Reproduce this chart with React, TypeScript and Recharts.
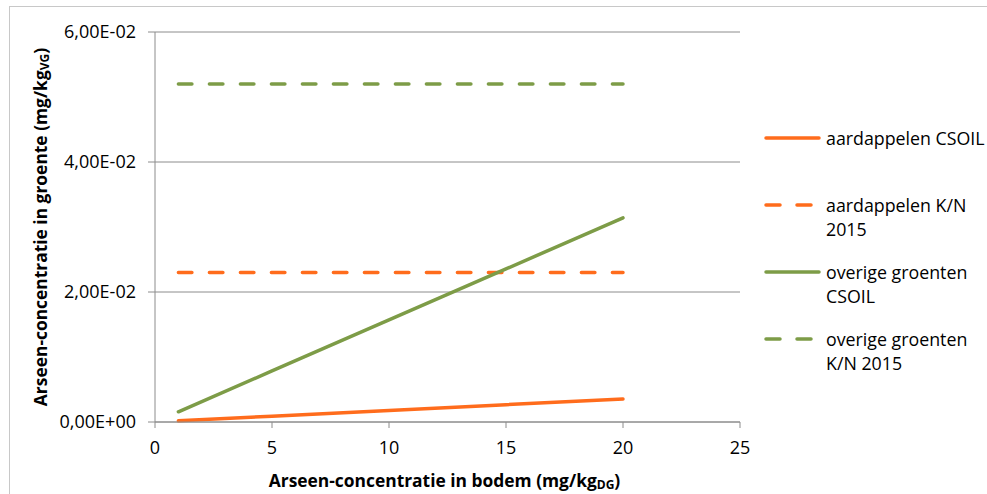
import { LineChart, Line, XAxis, YAxis, CartesianGrid, Legend } from "recharts";

const bodem = [1, 5, 10, 15, 20];
const aardappelenCsoil = [0.00018, 0.00089, 0.00177, 0.00266, 0.00354];
const aardappelenKN = [0.023, 0.023, 0.023, 0.023, 0.023];
const overigeCsoil = [0.00157, 0.00785, 0.0157, 0.02355, 0.0314];
const overigeKN = [0.052, 0.052, 0.052, 0.052, 0.052];

const xTicks = [0, 5, 10, 15, 20, 25];
const yTicks = [0, 0.02, 0.04, 0.06];

const ORANGE = "#FF6C1C";
const GREEN = "#7D9C47";
const GRID = "#8c8c8c";
const FONT = "'Open Sans', sans-serif";

const data = bodem.map((x, i) => ({
  bodem: x,
  aardCsoil: aardappelenCsoil[i],
  aardKN: aardappelenKN[i],
  overCsoil: overigeCsoil[i],
  overKN: overigeKN[i],
}));

const series = [
  { key: "aardCsoil", color: ORANGE, dashed: false, label: ["aardappelen CSOIL"] },
  { key: "aardKN", color: ORANGE, dashed: true, label: ["aardappelen K/N", "2015"] },
  { key: "overCsoil", color: GREEN, dashed: false, label: ["overige groenten", "CSOIL"] },
  { key: "overKN", color: GREEN, dashed: true, label: ["overige groenten", "K/N 2015"] },
];

function formatSci(v: number) {
  const [mant, exp] = v.toExponential(2).split("e");
  const n = parseInt(exp, 10);
  const sign = n < 0 ? "-" : "+";
  return `${mant.replace(".", ",")}E${sign}${String(Math.abs(n)).padStart(2, "0")}`;
}

function renderLegend() {
  const rowGap = 67;
  return (
    <svg width={232} height={280} style={{ fontFamily: FONT, fontSize: 17.8 }}>
      {series.map((s, i) => {
        const y = 21 + i * rowGap;
        return (
          <g key={s.key}>
            <line
              x1={11}
              x2={64}
              y1={y}
              y2={y}
              stroke={s.color}
              strokeWidth={3.5}
              strokeLinecap="round"
              strokeDasharray={s.dashed ? "14 17" : undefined}
            />
            {s.label.map((t, j) => (
              <text key={t} x={71} y={y + j * 24} dominantBaseline="central" fill="#000">
                {t}
              </text>
            ))}
          </g>
        );
      })}
    </svg>
  );
}

function YTitle(props: any) {
  const vb = props.viewBox;
  const cx = vb.x + 15;
  const cy = vb.y + vb.height / 2;
  return (
    <text
      x={cx}
      y={cy}
      transform={`rotate(-90 ${cx} ${cy})`}
      textAnchor="middle"
      dominantBaseline="central"
      fontFamily={FONT}
      fontWeight="bold"
      fontSize={17.4}
      fill="#000"
    >
      Arseen-concentratie in groente (mg/kg
      <tspan fontSize={12} dy={4}>VG</tspan>
      <tspan dy={-4}>)</tspan>
    </text>
  );
}

function XTitle(props: any) {
  const vb = props.viewBox;
  const cx = vb.x + vb.width / 2 - 3;
  const cy = vb.y + 58;
  return (
    <text
      x={cx}
      y={cy}
      textAnchor="middle"
      dominantBaseline="central"
      fontFamily={FONT}
      fontWeight="bold"
      fontSize={17.4}
      fill="#000"
    >
      Arseen-concentratie in bodem (mg/kg
      <tspan fontSize={12} dy={4}>DG</tspan>
      <tspan dy={-4}>)</tspan>
    </text>
  );
}

export default function App() {
  return (
    <div
      style={{
        position: "absolute",
        left: 9,
        top: 6,
        width: 977,
        height: 487,
        borderLeft: "1px solid #c8c8c8",
        borderTop: "1px solid #c8c8c8",
        background: "#fff",
      }}
    >
      <LineChart
        width={977}
        height={487}
        data={data}
        margin={{ top: 25, right: 247, bottom: 42, left: 15 }}
      >
        <CartesianGrid vertical={false} stroke={GRID} />
        <XAxis
          type="number"
          dataKey="bodem"
          domain={[0, 25]}
          ticks={xTicks}
          height={30}
          stroke={GRID}
          tickSize={6}
          tickMargin={13}
          tick={{ fill: "#000", fontSize: 18, fontFamily: FONT }}
          label={<XTitle />}
        />
        <YAxis
          type="number"
          domain={[0, 0.06]}
          ticks={yTicks}
          width={130}
          stroke={GRID}
          tickSize={7}
          tickMargin={12}
          tickFormatter={formatSci}
          tick={{ fill: "#000", fontSize: 18, fontFamily: FONT }}
          label={<YTitle />}
        />
        {series.map((s) => (
          <Line
            key={s.key}
            type="linear"
            dataKey={s.key}
            stroke={s.color}
            strokeWidth={3.5}
            strokeLinecap="round"
            strokeDasharray={s.dashed ? "13.5 17.5" : undefined}
            dot={false}
            activeDot={false}
            isAnimationActive={false}
          />
        ))}
        <Legend
          layout="vertical"
          align="center"
          verticalAlign="middle"
          content={renderLegend}
          wrapperStyle={{ left: 745, top: 110, width: 232, height: 280 }}
        />
      </LineChart>
    </div>
  );
}
